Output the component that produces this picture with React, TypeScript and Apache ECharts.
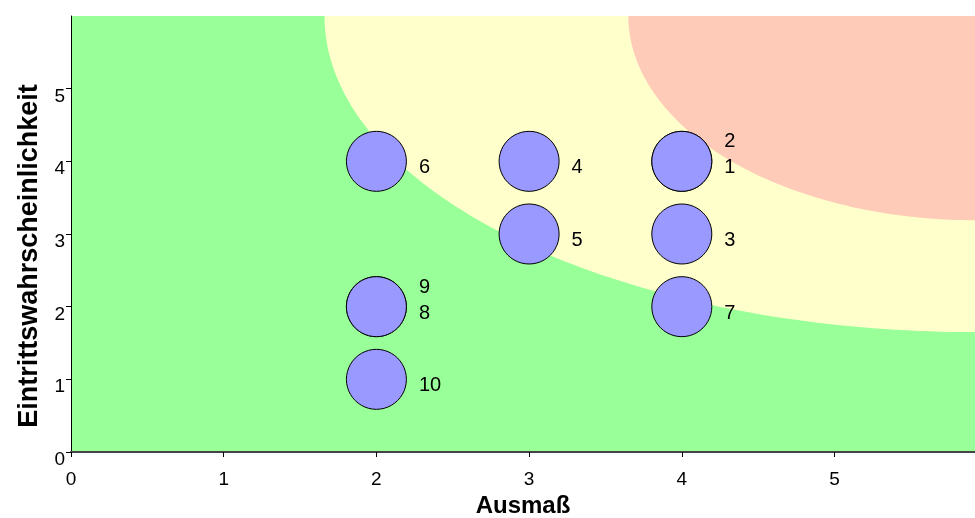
import React, { useEffect, useRef } from "react";
import * as echarts from "echarts";

// Risks: id, impact (Ausmaß, x), likelihood (Eintrittswahrscheinlichkeit, y)
const riskIds = ["1", "2", "3", "4", "5", "6", "7", "8", "9", "10"];
const riskImpact = [4, 4, 4, 3, 3, 2, 4, 2, 2, 2];
const riskLikelihood = [4, 4, 3, 4, 3, 4, 2, 2, 2, 1];

// Axis extents
const xMax = 5.92;
const yMax = 6;

// Risk zones: quarter ellipses anchored at the top-right corner (data units)
const zoneRadiusX = [4.26, 2.27];
const zoneRadiusY = [4.35, 2.81];
const zoneColors = ["#ffffcc", "#fdcbb8"];

const FONT = "'Liberation Sans', Arial, Helvetica, sans-serif";

export default function App() {
  const ref = useRef<HTMLDivElement>(null);

  useEffect(() => {
    if (!ref.current) return;
    const chart = echarts.init(ref.current, undefined, { renderer: "svg" });

    // stack index for labels of risks sharing the same cell
    const seen: Record<string, number> = {};
    const scatterData = riskIds.map((id, i) => {
      const key = riskImpact[i] + "_" + riskLikelihood[i];
      const k = seen[key] || 0;
      seen[key] = k + 1;
      return {
        name: id,
        value: [riskImpact[i], riskLikelihood[i]],
        label: { offset: [0, 5 - k * 26] },
      };
    });

    chart.setOption({
      animation: false,
      grid: {
        left: 71,
        right: 0,
        top: 16,
        bottom: 66,
        outerBoundsMode: "none",
        containLabel: false,
        show: true,
        backgroundColor: "#99ff99",
        borderWidth: 0,
      },
      xAxis: {
        type: "value",
        min: 0,
        max: xMax,
        interval: 1,
        name: "Ausmaß",
        nameLocation: "middle",
        nameGap: 41,
        nameTextStyle: {
          fontFamily: FONT,
          fontSize: 24,
          lineHeight: 20,
          fontWeight: "bold",
          color: "#000",
        },
        splitLine: { show: false },
        axisLine: { lineStyle: { color: "#444", width: 2 } },
        axisTick: { length: 5, lineStyle: { color: "#000" } },
        axisLabel: {
          showMaxLabel: false,
          fontFamily: FONT,
          fontSize: 19,
          color: "#000",
          margin: 17,
        },
      },
      yAxis: {
        type: "value",
        min: 0,
        max: yMax,
        interval: 1,
        splitLine: { show: false },
        axisLine: { lineStyle: { color: "#000", width: 1 } },
        axisTick: { length: 5, lineStyle: { color: "#000" } },
        axisLabel: {
          showMaxLabel: false,
          fontFamily: FONT,
          fontSize: 19,
          color: "#000",
          margin: 6,
          verticalAlign: "top",
          padding: [-3, 0, 0, 0],
        },
      },
      graphic: [
        {
          type: "text",
          x: 28,
          y: 256,
          rotation: Math.PI / 2,
          style: {
            text: "Eintrittswahrscheinlichkeit",
            fontFamily: FONT,
            fontSize: 27,
            fontWeight: "bold",
            fill: "#000",
            textAlign: "center",
            textVerticalAlign: "middle",
          },
        },
      ],
      series: [
        {
          type: "custom",
          silent: true,
          clip: true,
          z: 1,
          data: zoneColors.map((_, i) => [i]),
          renderItem: (params: any, api: any) => {
            const i = params.dataIndex;
            const rx = zoneRadiusX[i];
            const ry = zoneRadiusY[i];
            const pts: number[][] = [api.coord([xMax, yMax])];
            const steps = 90;
            for (let s = 0; s <= steps; s++) {
              const t = (s / steps) * (Math.PI / 2);
              pts.push(api.coord([xMax - rx * Math.cos(t), yMax - ry * Math.sin(t)]));
            }
            return {
              type: "polygon",
              shape: { points: pts },
              style: { fill: zoneColors[i], stroke: null },
            };
          },
        },
        {
          type: "scatter",
          z: 3,
          symbol: "circle",
          symbolSize: 60,
          itemStyle: { color: "#9999ff", borderColor: "#000", borderWidth: 1, opacity: 1 },
          label: {
            show: true,
            position: "right",
            distance: 12,
            formatter: (p: any) => p.name,
            fontFamily: FONT,
            fontSize: 20,
            color: "#000",
          },
          data: scatterData,
        },
      ],
    });

    return () => chart.dispose();
  }, []);

  return (
    <div
      ref={ref}
      style={{ position: "fixed", left: 0, top: 0, width: 975, height: 518 }}
    />
  );
}
